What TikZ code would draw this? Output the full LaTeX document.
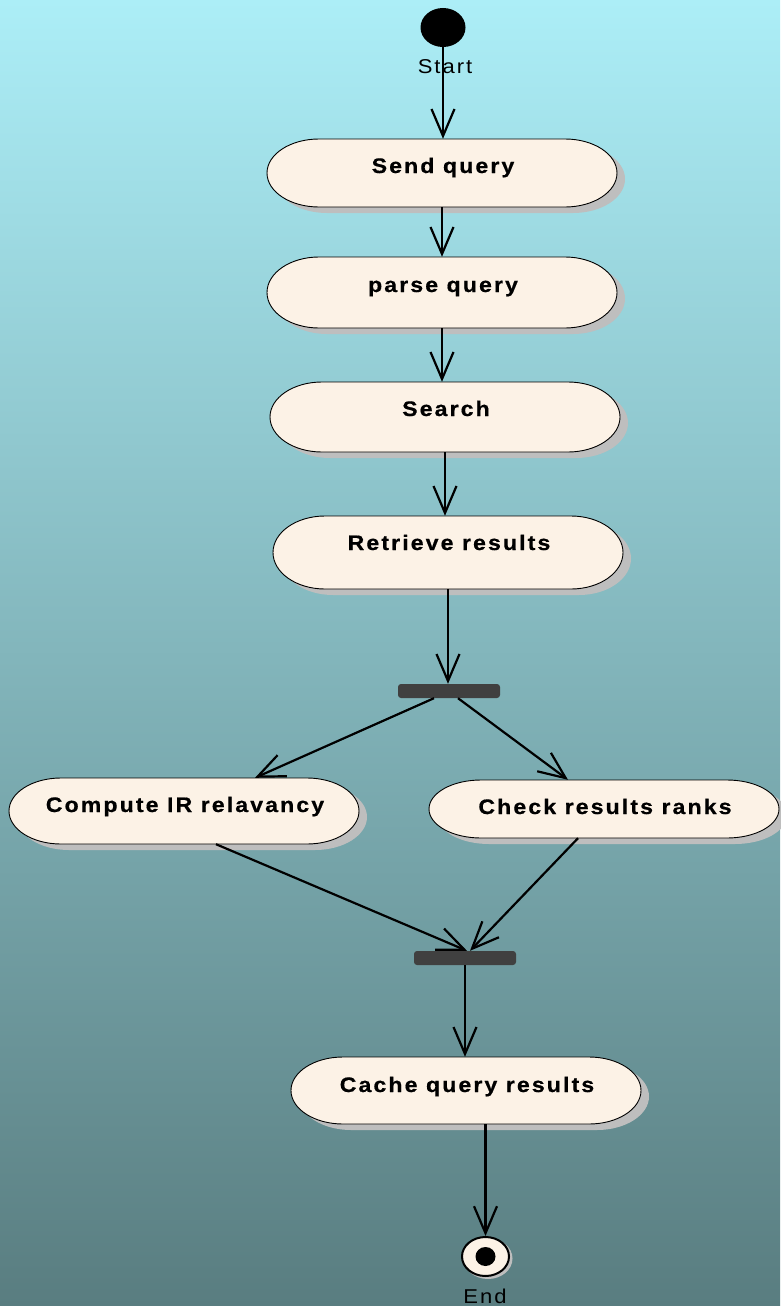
\documentclass[tikz,border=0pt]{standalone}
\usepackage{fontspec}
\setmainfont{Liberation Sans}
\newfontfamily\actfont[FakeStretch=1.1,LetterSpace=10,FakeBold=0.6]{Liberation Sans Bold}
\newfontfamily\lblfont[FakeStretch=1.1,LetterSpace=10]{Liberation Sans}
\usetikzlibrary{arrows.meta,calc,shapes.geometric}

\definecolor{bgtop}{RGB}{172,238,247}
\definecolor{bgbot}{RGB}{89,125,128}
\definecolor{actfill}{RGB}{252,242,230}
\definecolor{shadowgrey}{RGB}{190,190,190}
\definecolor{bargrey}{RGB}{64,64,64}

% pill outline: centre x, centre y, half width, half height (pixel units, y downward)
\newcommand\pillshape[4]{%
  ({#1-#3+52},{#2-#4}) -- ({#1+#3-52},{#2-#4})
  arc[start angle=-90,end angle=90,x radius=52,y radius=#4]
  -- ({#1-#3+52},{#2+#4})
  arc[start angle=90,end angle=270,x radius=52,y radius=#4] -- cycle}

% activity: name, centre x, centre y, half height, baseline y, text
\newcommand\activity[6]{%
  \fill[shadowgrey] \pillshape{#2+8}{#3+6}{175}{#4};
  \filldraw[actfill,draw=black,line width=0.9pt] \pillshape{#2}{#3}{175}{#4};
  \node[actbox,minimum height={2*#4}] (#1) at (#2,#3) {};
  \node[acttext] (#1-text) at (#2+1,#5) {#6};
}

\tikzset{
  actbox/.style={draw=none,rectangle,minimum width=350,inner sep=0},
  acttext/.style={anchor=base,inner sep=0,font=\actfont\fontsize{21}{24}\selectfont},
  lbltext/.style={anchor=base,inner sep=0,font=\lblfont\fontsize{20}{23}\selectfont},
  flow/.style={line width=2.2pt,-{Straight Barb[length=27pt,width=23pt,line width=2.2pt]}},
  forkbar/.style={fill=bargrey,rounded corners=3pt,minimum width=102,minimum height=14,inner sep=0,draw=none}
}

\begin{document}
\begin{tikzpicture}[x=1pt,y=-1pt]
\useasboundingbox (0,0) rectangle (780,1306);
\shade[top color=bgtop,bottom color=bgbot] (0,0) rectangle (780,1306);

% initial state
\node[fill=black,ellipse,minimum width=45,minimum height=39,inner sep=0] (start) at (443,27.5) {};
\node[lbltext] (start-label) at (445,74) {Start};

% activities
\activity{send}{442}{173}{34}{173}{Send query}
\activity{parse}{442}{292.5}{35.5}{292}{parse query}
\activity{search}{445}{417}{35}{416}{Search}
\activity{retrieve}{448}{552.5}{36.5}{550}{Retrieve results}
\activity{compute}{184}{811}{33}{812}{Compute IR relavancy}
\activity{check}{604}{809}{29}{814}{Check results ranks}
\activity{cache}{466}{1090.5}{33.5}{1092}{Cache query results}

% fork and join bars
\node[forkbar] (fork) at (449,691) {};
\node[forkbar] (join) at (465,958) {};

% final state
\fill[shadowgrey] (488,1258.5) ellipse[x radius=24.5,y radius=20.5];
\node[ellipse,fill=actfill,draw=black,line width=2pt,minimum width=47,minimum height=39,inner sep=0] (end) at (485.5,1256.5) {};
\node[ellipse,fill=black,minimum width=20,minimum height=19,inner sep=0] (end-dot) at (end.center) {};
\node[lbltext] (end-label) at (485,1303) {End};

% control flow
\draw[flow] (start.south) -- (start.south |- send.north);
\draw[flow] (send.south) -- (parse.north);
\draw[flow] (parse.south) -- (parse.south |- search.north);
\draw[flow] (search.south) -- (search.south |- retrieve.north);
\draw[flow] (retrieve.south) -- (retrieve.south |- fork.north);
\draw[flow] ([xshift=-15]fork.south) -- ([xshift=71]compute.north);
\draw[flow] ([xshift=9]fork.south) -- ([xshift=-36]check.north);
\draw[flow] ([xshift=32]compute.south) -- ([xshift=2]join.north);
\draw[flow] ([xshift=-26]check.south) -- ([xshift=5]join.north);
\draw[flow] (join.south) -- (join.south |- cache.north);
\draw[flow] (cache.south -| end.north) -- (end.north);
\end{tikzpicture}
\end{document}
